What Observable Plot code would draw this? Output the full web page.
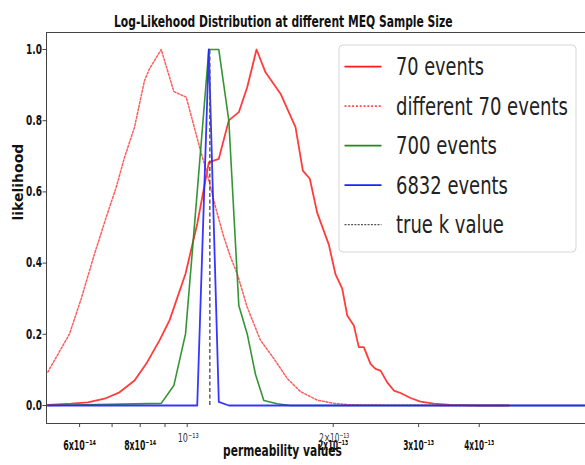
<!DOCTYPE html>
<html><head><meta charset="utf-8">
<script src="https://cdn.jsdelivr.net/npm/d3@7"></script>
<script src="https://cdn.jsdelivr.net/npm/@observablehq/plot@0.6"></script>
<style>body{margin:0;background:#fff} #chart{width:585px;height:465px}</style>
</head><body><div id="chart"></div>
<script>
const title = "Log-Likehood Distribution at different MEQ Sample Size";
const xLabel = "permeability values";
const yLabel = "likelihood";

// permeability k in units of 1e-13
const kRed = [0.5159,0.5765,0.6238,0.6753,0.7251,0.7787,0.8231,0.8768,0.9194,0.9920,1.0486,1.1080,1.1618,1.2184,1.2776,1.3296,1.3896,1.4502,1.5573,1.6722,1.7313,1.7897,1.8537,1.9587,2.0220,2.0874,2.1375,2.2055,2.2584,2.3127,2.3874,2.4448,2.5036,2.5845,2.6668,2.7529,2.8868,3.0271,3.2244,3.4906,4.0246,4.6];
const vRed = [0.002,0.005,0.009,0.019,0.037,0.070,0.117,0.183,0.239,0.370,0.510,0.683,0.693,0.801,0.824,0.894,1.000,0.936,0.876,0.782,0.660,0.637,0.541,0.452,0.368,0.328,0.253,0.225,0.164,0.164,0.117,0.103,0.098,0.065,0.042,0.035,0.021,0.011,0.005,0.002,0.0,0.0];

const kRedB = [0.5159,0.5719,0.6045,0.6440,0.6808,0.7139,0.7426,0.7787,0.8165,0.8361,0.8839,0.9384,0.9953,1.0652,1.0996,1.1438,1.1898,1.2282,1.2679,1.3296,1.4162,1.5085,1.6076,1.7124,1.8537,2.0058,2.1600,2.7500,4.5];
const vRedB = [0.094,0.201,0.300,0.426,0.529,0.613,0.697,0.782,0.913,0.946,1.000,0.882,0.866,0.716,0.651,0.557,0.473,0.417,0.370,0.276,0.183,0.132,0.076,0.039,0.015,0.006,0.002,0.0005,0.0];

const kGreen = [0.5159,0.8839,0.9384,0.9920,1.0486,1.1080,1.1618,1.2184,1.2776,1.3296,1.3830,1.4386,1.5331,1.63,6.6];
const vGreen = [0.0,0.006,0.056,0.201,0.60,1.0,1.0,0.80,0.281,0.201,0.087,0.014,0.005,0.0,0.0];

const kBlue = [0.5159,1.0486,1.1080,1.1618,1.2184,6.6];
const vBlue = [0.0,0.0,1.0,0.01,0.0,0.0];

const trueK = 1.1133;
const trueKSpan = [0, 1];

const seriesNames = ["70 events","different 70 events","700 events","6832 events","true k value"];
const seriesColors = ["#ff1a1a","#ff4a4a","#1f8a1f","#2020ff","#555555"];

const xDomain = [0.5127, 6.625];
const yDomain = [-0.0506, 1.0478];
const xTickVals = [0.6,0.7,0.8,0.9,1,2,3,4];
const xLabelVals = [0.6,0.8,2,3,4];
const xLabelText = ["6x10⁻¹⁴","8x10⁻¹⁴","2x10⁻¹³","3x10⁻¹³","4x10⁻¹³"];
const xMathVals = [1,2];
const xMathText = ["10⁻¹³","2×10⁻¹³"];
const yTickVals = [0,0.2,0.4,0.6,0.8,1.0];

const toRows = (ks, vs) => ks.map((k, i) => ({k, v: vs[i]}));

const FONT = "DejaVu Sans";
const DOT = "2,1.8";
const plot = Plot.plot({
  width: 585, height: 465,
  marginLeft: 46, marginRight: 0, marginTop: 32, marginBottom: 42,
  style: {fontFamily: FONT, background: "#fff"},
  x: {type: "log", domain: xDomain},
  y: {domain: yDomain},
  marks: [
    Plot.line(toRows(kRed, vRed), {x: "k", y: "v", stroke: seriesColors[0], strokeWidth: 1.8, strokeOpacity: 0.85}),
    Plot.line(toRows(kRedB, vRedB), {x: "k", y: "v", stroke: seriesColors[1], strokeWidth: 1.5, strokeDasharray: DOT, strokeOpacity: 0.9}),
    Plot.line(toRows(kGreen, vGreen), {x: "k", y: "v", stroke: seriesColors[2], strokeWidth: 1.6, strokeOpacity: 0.9}),
    Plot.line(toRows(kBlue, vBlue), {x: "k", y: "v", stroke: seriesColors[3], strokeWidth: 1.8, strokeOpacity: 0.9}),
    Plot.ruleX([trueK], {y1: trueKSpan[0], y2: trueKSpan[1], stroke: seriesColors[4], strokeWidth: 1.4, strokeDasharray: "4,2.5"}),
    Plot.ruleY(yDomain, {stroke: "#444", strokeWidth: 1}),
    Plot.ruleX([xDomain[0]], {stroke: "#444", strokeWidth: 1}),
    Plot.axisX({ticks: xTickVals, tickFormat: () => "", tickSize: 4, label: null, stroke: "#444"}),
    Plot.axisY({ticks: yTickVals, tickFormat: d3.format(".1f"), tickSize: 3.5, tickPadding: 1, fontSize: 13.5, fontWeight: "bold", fill: "#111", label: null, stroke: "#444"}),
    Plot.text(xLabelVals, {x: d => d, text: (d, i) => xLabelText[i], frameAnchor: "bottom", lineAnchor: "bottom", dy: 26, fontSize: 13.5, fontWeight: "bold", fill: "#111"}),
    Plot.text(xMathVals, {x: d => d, text: (d, i) => xMathText[i], frameAnchor: "bottom", lineAnchor: "bottom", dy: 18, dx: 1, fontSize: 12.5, fill: "#333"}),
    Plot.text([title], {frameAnchor: "top", lineAnchor: "bottom", dy: -6, dx: -32.7, fontSize: 15, fontWeight: "bold", fill: "#111"}),
    Plot.text([xLabel], {frameAnchor: "bottom", lineAnchor: "bottom", dy: 32, dx: -33.5, fontSize: 15, fontWeight: "bold", fill: "#111"}),
    Plot.text([yLabel], {frameAnchor: "left", rotate: -90, dx: -28, dy: -7.5, fontSize: 14, fontWeight: "bold", fill: "#111"})
  ]
});
document.getElementById("chart").appendChild(plot);

// the original figure is horizontally compressed: squeeze texts to their measured widths
const textWidths = {
  [title]: 339, [xLabel]: 119,
  "6x10⁻¹⁴": 33, "8x10⁻¹⁴": 32, "2x10⁻¹³": 30, "3x10⁻¹³": 31, "4x10⁻¹³": 30,
  "10⁻¹³": 21, "2×10⁻¹³": 30
};
yTickVals.forEach(v => textWidths[d3.format(".1f")(v)] = 16);
const svg = d3.select(plot);
svg.selectAll("text").each(function() {
  const w = textWidths[this.textContent];
  if (!w) return;
  const s = w / this.getComputedTextLength();
  const tr = this.getAttribute("transform") || "";
  this.setAttribute("transform", `${tr} scale(${s},1)`);
});

// legend
const legendWidths = [88, 172, 101, 112, 108];
const dashes = [null, DOT, null, null, "2,1.3"];
const lg = svg.append("g").attr("text-anchor", "start");
lg.append("rect").attr("x", 339).attr("y", 45).attr("width", 237).attr("height", 207)
  .attr("rx", 4).attr("fill", "#fff").attr("fill-opacity", 0.85).attr("stroke", "#d6d6d6");
seriesNames.forEach((name, i) => {
  const y = 66.7 + 39.5 * i;
  lg.append("line").attr("x1", 344.5).attr("x2", 381.5).attr("y1", y).attr("y2", y)
    .attr("stroke", seriesColors[i]).attr("stroke-width", i === 4 ? 1.3 : 1.8)
    .attr("stroke-dasharray", dashes[i]);
  const t = lg.append("text").text(name)
    .attr("text-anchor", "start")
    .attr("font-family", FONT).attr("font-size", 25).attr("fill", "#222");
  const s = legendWidths[i] / t.node().getComputedTextLength();
  t.attr("transform", `translate(396,${y + 8.5}) scale(${s},1)`);
});
</script></body></html>
